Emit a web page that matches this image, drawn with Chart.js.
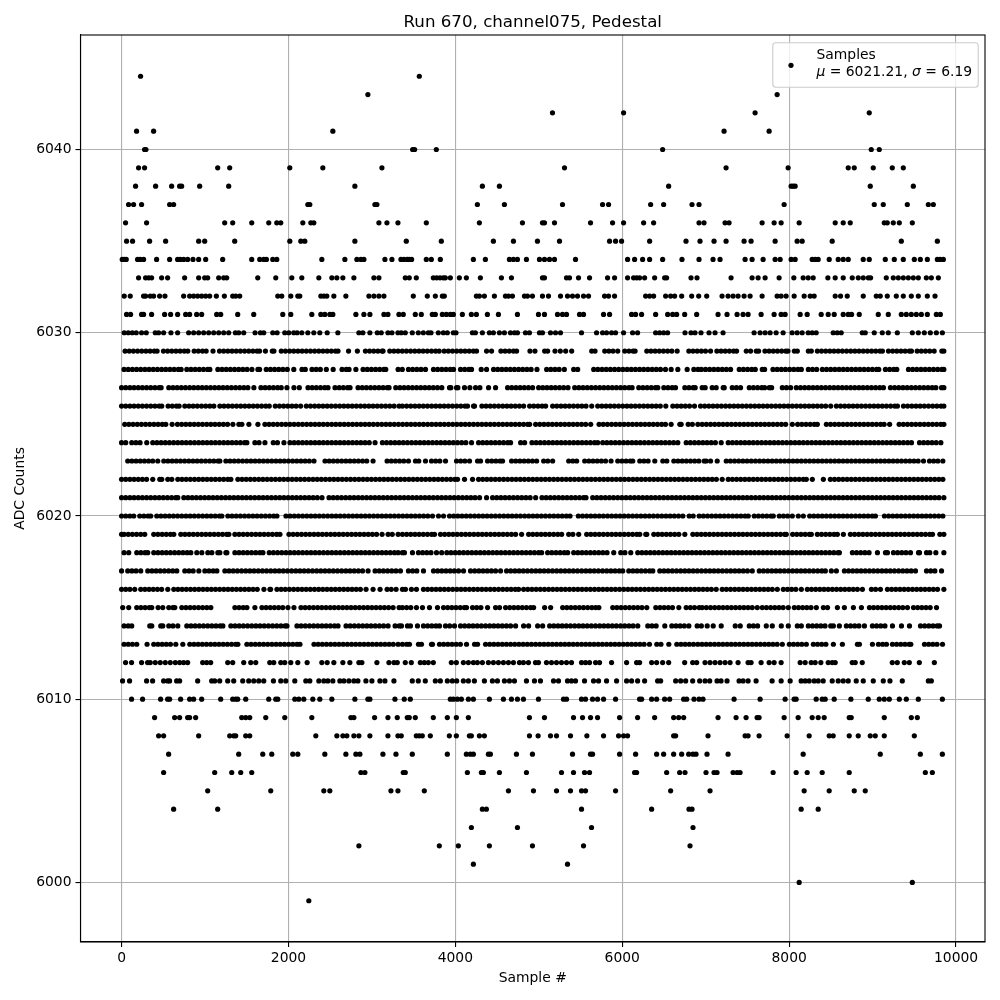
<!DOCTYPE html>
<html><head><meta charset="utf-8">
<script src="https://cdn.jsdelivr.net/npm/chart.js@4"></script>
<style>html,body{margin:0;padding:0;background:#fff}#w{width:1000px;height:1000px;position:relative}</style>
</head><body><div id="w"><canvas id="c" width="1000" height="1000"></canvas></div>
<script>
// Sample numbers per ADC level. Sparse levels are read dot by dot.
// In dense levels (6013-6029) dots overlap, so positions are estimates along each visible run.
const adc6044=[228,3568];
const adc6043=[2952,7856];
const adc6042=[5164,6016,7592,8960];
const adc6041=[180,384,2532,7220,7760];
const adc6040=[276,292,3488,3512,3772,6484,8984,9080];
const adc6039=[204,276,1152,1296,2016,2412,3120,5308,7244,7988,8708,8780,9008,9236,9368];
const adc6038=[168,408,600,696,720,936,1284,2796,4324,4528,6556,8024,8048,8072,8972,9488];
const adc6037=[84,144,240,576,624,2232,2256,3036,3060,4264,4588,5284,5764,5836,6340,6496,6836,6920,7940,9020,9128,9416,9668,9728];
const adc6036=[48,300,1236,1332,1560,1764,1860,1908,2172,2268,2304,3084,3180,3312,3652,4288,4804,5044,5068,5188,5620,5884,6016,6256,6376,6920,6980,7232,7280,7676,7820,7904,8120,8552,8648,8732,9140,9176,9248,9320,9476];
const adc6035=[60,132,336,528,924,996,1356,2016,2148,2196,2796,3412,3832,4456,4696,4984,5248,5848,5920,5992,6328,6764,6932,7100,7244,7460,7544,7832,8096,8156,8516,9344,9776];
const adc6034=[8,32,56,192,224,264,420,576,672,704,744,792,856,924,1008,1212,1560,1656,1704,1736,1812,1860,2400,2676,2820,2868,2904,3156,3240,3348,3384,3424,3448,3476,3652,3712,3820,4216,4360,4648,4696,4744,4852,5008,5068,5128,5188,5440,6064,6148,6244,6328,6484,6716,6920,7088,7172,7472,7556,7688,7832,7892,8024,8072,8276,8312,8348,8480,8588,8648,8708,8888,8960,9152,9260,9368,9500,9572,9656,9776,9808,9848];
const adc6033=[204,288,324,360,480,552,756,924,996,1032,1164,1224,1260,1632,1848,2040,2160,2364,2520,2580,2652,2784,3024,3084,3400,3448,3532,3736,3776,3816,3856,3880,3940,4048,4132,4300,4552,4672,5044,5068,5332,5368,5476,5608,5824,5908,6064,6136,6172,6208,6268,6388,6508,6532,6824,6896,7304,7556,7628,7712,7880,8056,8168,8228,8288,8464,8552,8648,8756,8828,8888,8948,8976,9164,9248,9308,9368,9428,9488,9548,9644,9704,9788];
const adc6032=[32,104,264,288,344,384,456,520,744,816,864,912,960,1008,1056,1136,1232,1332,1368,1416,1872,1920,2028,2112,2136,2388,2424,2460,2544,2688,2964,3024,3084,3144,3496,3664,3760,3844,3868,4252,4288,4348,4468,4600,4636,4684,4828,4864,4924,5044,5116,5260,5344,5404,5464,5536,5596,5788,5836,5908,6280,6328,6376,6520,6580,6628,6712,6832,6916,7012,7196,7268,7328,7388,7460,7532,7676,7856,7904,7964,8060,8180,8252,8300,8552,8616,8696,8888,9044,9092,9176,9284,9368,9464,9548,9656,9748];
const adc6031=[60,108,240,264,360,516,588,672,768,816,900,960,1140,1188,1392,1584,1932,2028,2280,2388,2436,2496,2532,2808,2904,2976,3144,3192,3324,3376,3520,3592,3724,3760,3844,3892,3940,3976,4084,4192,4252,4384,4516,4744,4996,5068,5224,5284,5332,5488,5536,5776,5848,6112,6160,6232,6400,6544,6604,6652,6748,6892,7148,7256,7376,7448,7508,7664,7820,7904,7952,8132,8216,8384,8468,8540,8648,8708,8748,8840,9068,9188,9344,9404,9464,9524,9584,9656,9764,9812];
const adc6030=[32,80,128,176,240,296,404,444,504,592,672,804,864,924,984,1044,1104,1164,1224,1284,1364,1404,1464,1600,1664,1704,1812,1864,1956,2004,2064,2104,2160,2232,2304,2376,2464,2592,2844,2892,2976,3064,3112,3192,3240,3312,3352,3400,3484,3556,3616,3676,3708,3796,3856,3904,3976,4008,4204,4240,4324,4408,4456,4528,4588,4660,4708,4744,4840,4888,5008,5044,5140,5200,5260,5512,5692,5764,5812,5872,5920,6016,6124,6184,6400,6448,6496,6544,6752,6824,6872,6944,7040,7112,7208,7580,7652,7712,7772,7844,7928,8036,8096,8156,8228,8276,8324,8528,8576,8624,8876,8912,9020,9116,9188,9296,9476,9548,9620,9692,9764,9836];
const adc6029=[42,92,142,192,242,292,342,392,426,502,552,602,652,702,752,794,870,920,970,1014,1096,1174,1224,1274,1324,1374,1424,1474,1524,1574,1624,1654,1724,1806,1826,1914,1964,2014,2064,2114,2164,2214,2264,2314,2364,2414,2464,2514,2564,2594,2720,2826,2922,2972,3022,3072,3122,3134,3214,3264,3314,3364,3414,3464,3514,3564,3614,3664,3714,3764,3806,3866,3916,3966,4016,4066,4116,4166,4216,4254,4374,4434,4546,4596,4646,4696,4734,4894,4954,5070,5106,5194,5258,5322,5394,5634,5674,5790,5840,5890,5946,6030,6080,6130,6154,6294,6344,6394,6444,6494,6544,6594,6658,6798,6848,6898,6948,6998,7058,7134,7184,7234,7284,7334,7370,7486,7538,7606,7634,7710,7760,7810,7860,7910,7960,7986,8062,8098,8230,8266,8338,8388,8438,8488,8538,8588,8638,8688,8738,8788,8838,8888,8938,8988,9038,9088,9118,9190,9240,9290,9340,9390,9440,9466,9534,9584,9634,9684,9738,9830,9854];
const adc6028=[30,80,130,180,230,280,330,380,430,480,530,580,630,680,714,782,832,882,932,982,1032,1058,1154,1204,1254,1304,1354,1404,1454,1504,1562,1634,1654,1734,1784,1834,1884,1934,1986,2064,2162,2202,2282,2332,2382,2454,2536,2642,2692,2726,2808,2894,2944,2994,3044,3094,3144,3166,3314,3364,3438,3488,3538,3588,3642,3738,3788,3838,3888,3938,3978,4062,4112,4162,4194,4310,4374,4458,4508,4558,4608,4658,4708,4758,4808,4858,4908,4978,5094,5144,5194,5244,5306,5418,5466,5658,5708,5758,5808,5858,5908,5958,6008,6058,6108,6158,6208,6258,6308,6358,6408,6458,6518,6586,6666,6778,6858,6908,6948,6998,7048,7098,7148,7198,7248,7298,7402,7452,7502,7552,7594,7678,7706,7806,7856,7906,7956,8006,8056,8106,8146,8230,8280,8330,8398,8448,8498,8548,8598,8648,8698,8748,8798,8848,8898,8948,8998,9048,9074,9154,9204,9254,9290,9430,9480,9530,9580,9630,9680,9730,9780,9830,9854];
const adc6027=[0,50,100,150,200,250,300,350,400,450,474,566,616,666,716,766,816,866,916,966,1016,1066,1116,1166,1216,1266,1316,1366,1416,1466,1514,1586,1670,1720,1770,1820,1870,1914,1982,2066,2130,2234,2284,2334,2384,2434,2474,2558,2608,2658,2708,2738,2834,2884,2934,2984,3034,3084,3134,3184,3206,3286,3336,3386,3436,3486,3536,3586,3636,3686,3736,3786,3838,3930,3946,4014,4030,4110,4174,4242,4294,4398,4482,4626,4676,4726,4776,4826,4876,4926,4998,5048,5098,5148,5198,5248,5298,5350,5430,5480,5530,5580,5630,5680,5730,5780,5830,5880,5930,5980,6030,6080,6118,6198,6248,6298,6348,6398,6426,6498,6548,6598,6638,6750,6800,6850,6874,6958,6994,7078,7126,7210,7222,7318,7368,7418,7522,7572,7622,7672,7706,7762,7790,7918,7968,8018,8086,8136,8186,8236,8286,8336,8386,8436,8486,8536,8586,8636,8686,8736,8786,8836,8886,8936,8986,9036,9086,9130,9214,9264,9314,9364,9414,9464,9514,9564,9614,9664,9714,9758,9826,9854];
const adc6026=[0,50,100,150,200,250,300,350,400,450,482,558,608,658,690,758,808,858,908,958,1008,1058,1106,1178,1228,1278,1328,1378,1428,1478,1528,1578,1628,1678,1728,1770,1842,1892,1942,1992,2042,2092,2146,2214,2264,2314,2364,2414,2464,2514,2564,2614,2664,2714,2764,2814,2864,2914,2964,3014,3064,3114,3164,3214,3266,3326,3366,3416,3466,3516,3566,3616,3666,3716,3766,3816,3866,3916,3966,4016,4066,4116,4146,4218,4230,4318,4368,4418,4468,4518,4568,4618,4668,4718,4768,4818,4890,4940,4990,5040,5082,5166,5216,5266,5316,5366,5416,5466,5516,5566,5634,5706,5756,5806,5856,5906,5956,6006,6056,6106,6156,6206,6256,6306,6356,6406,6456,6522,6606,6656,6706,6756,6806,6866,6938,6988,7038,7088,7138,7188,7238,7288,7338,7388,7438,7488,7538,7588,7638,7688,7738,7788,7838,7888,7938,7988,8038,8088,8138,8188,8238,8288,8338,8388,8438,8498,8566,8616,8666,8716,8766,8816,8866,8916,8966,9016,9066,9116,9166,9216,9266,9298,9370,9420,9470,9520,9570,9620,9670,9720,9770,9820,9854];
const adc6025=[38,88,138,188,238,288,338,388,438,488,530,606,670,720,770,820,870,920,970,1020,1070,1120,1170,1220,1270,1334,1406,1442,1526,1634,1718,1768,1818,1868,1918,1968,2018,2068,2118,2168,2218,2268,2318,2368,2418,2468,2518,2568,2618,2668,2718,2768,2818,2868,2918,2968,3018,3068,3118,3168,3218,3268,3318,3368,3418,3468,3518,3568,3618,3668,3718,3768,3818,3868,3918,3968,4018,4068,4118,4168,4218,4268,4318,4368,4418,4468,4518,4568,4618,4668,4718,4768,4818,4868,4890,4962,5012,5062,5112,5162,5212,5262,5312,5362,5412,5462,5512,5562,5622,5722,5772,5822,5872,5922,5972,6022,6072,6122,6172,6222,6272,6322,6372,6422,6472,6518,6586,6690,6706,6790,6840,6906,6958,7008,7058,7108,7158,7208,7258,7308,7358,7408,7458,7508,7558,7608,7658,7708,7758,7808,7858,7908,7958,8038,8102,8152,8202,8252,8302,8338,8446,8496,8546,8596,8646,8696,8746,8796,8846,8896,8946,8996,9046,9096,9138,9204,9318,9368,9418,9468,9518,9568,9618,9668,9718,9768,9818,9854];
const adc6024=[0,50,122,172,222,302,374,424,474,524,574,624,674,724,774,824,874,924,974,1024,1074,1124,1174,1224,1274,1324,1374,1424,1474,1502,1598,1648,1718,1818,1868,1946,2018,2068,2118,2168,2218,2268,2318,2368,2418,2468,2518,2568,2618,2668,2718,2768,2818,2868,2918,2968,3038,3126,3176,3226,3276,3326,3376,3426,3476,3526,3576,3626,3676,3726,3776,3826,3876,3926,3976,4026,4076,4126,4194,4278,4328,4378,4428,4478,4528,4578,4628,4662,4782,4830,4918,4968,5018,5068,5118,5168,5218,5268,5318,5368,5418,5468,5518,5568,5618,5668,5706,5766,5816,5866,5916,5966,6016,6066,6116,6166,6216,6266,6316,6366,6416,6466,6516,6566,6616,6666,6766,6816,6866,6916,6966,7016,7066,7116,7186,7270,7320,7370,7420,7470,7520,7570,7620,7670,7720,7770,7820,7870,7920,7970,8020,8070,8120,8170,8220,8270,8320,8370,8420,8470,8520,8570,8620,8670,8720,8770,8820,8870,8920,8970,9020,9070,9120,9170,9220,9270,9320,9370,9420,9466,9562,9612,9662,9712,9762,9818];
const adc6023=[74,124,174,224,274,324,374,434,506,556,606,656,706,756,806,856,906,956,1006,1056,1106,1156,1178,1250,1300,1350,1400,1450,1500,1550,1600,1650,1700,1750,1800,1850,1900,1950,2000,2050,2100,2150,2200,2250,2306,2438,2488,2538,2588,2638,2688,2738,2788,2838,2888,2938,3014,3182,3232,3282,3332,3382,3438,3522,3562,3642,3714,3764,3814,3882,4014,4064,4114,4170,4266,4302,4386,4436,4486,4536,4566,4674,4724,4774,4824,4874,4924,4974,5058,5108,5166,5358,5408,5454,5550,5600,5650,5700,5750,5800,5866,5946,5996,6046,6096,6126,6210,6260,6310,6390,6486,6534,6618,6668,6718,6768,6818,6868,6918,6982,7006,7058,7138,7246,7296,7346,7396,7446,7496,7546,7596,7646,7696,7746,7796,7846,7896,7946,7996,8046,8096,8146,8196,8246,8296,8346,8396,8446,8496,8546,8596,8646,8696,8746,8796,8846,8896,8946,8996,9046,9096,9146,9196,9246,9296,9346,9396,9446,9496,9546,9610,9682,9732,9782,9842];
const adc6022=[0,50,100,150,200,250,300,374,458,482,554,602,674,724,774,824,874,924,974,1024,1074,1124,1174,1224,1274,1310,1394,1444,1494,1544,1594,1644,1694,1744,1794,1844,1894,1944,1994,2044,2094,2144,2194,2244,2294,2344,2394,2444,2494,2544,2594,2644,2694,2744,2794,2844,2894,2944,2994,3044,3094,3144,3194,3244,3294,3344,3394,3444,3494,3544,3594,3644,3694,3744,3794,3844,3894,3944,3994,4026,4110,4206,4278,4328,4378,4428,4478,4528,4578,4628,4678,4728,4778,4828,4878,4928,4978,5028,5078,5128,5178,5228,5278,5328,5378,5428,5478,5528,5578,5628,5678,5728,5778,5828,5878,5928,5978,6028,6078,6128,6178,6228,6278,6328,6378,6428,6478,6528,6578,6628,6678,6728,6778,6828,6878,6928,6978,7028,7078,7128,7198,7270,7320,7370,7420,7470,7520,7570,7620,7670,7720,7770,7820,7870,7920,7970,8020,8070,8120,8170,8206,8278,8410,8494,8544,8594,8644,8694,8744,8794,8844,8894,8944,8994,9044,9094,9144,9194,9244,9294,9344,9394,9444,9494,9544,9594,9644,9694,9744,9794,9842];
const adc6021=[0,50,100,150,200,250,300,350,400,450,500,550,600,650,674,746,796,846,896,946,996,1046,1096,1146,1196,1246,1296,1346,1396,1446,1496,1546,1596,1646,1696,1746,1796,1846,1896,1946,1996,2046,2096,2146,2196,2246,2296,2346,2402,2486,2536,2586,2636,2686,2736,2786,2836,2886,2936,2986,3036,3086,3136,3186,3236,3286,3336,3386,3436,3486,3536,3586,3636,3686,3736,3786,3836,3886,3936,3986,4036,4086,4136,4186,4236,4290,4374,4446,4496,4546,4596,4646,4696,4746,4796,4846,4896,4962,5038,5088,5138,5188,5238,5288,5338,5388,5438,5488,5538,5566,5646,5696,5746,5796,5846,5896,5946,5996,6046,6096,6146,6196,6246,6296,6346,6396,6446,6496,6546,6596,6646,6696,6746,6796,6846,6896,6946,6996,7046,7096,7146,7196,7246,7296,7346,7396,7446,7496,7546,7596,7646,7696,7746,7796,7846,7896,7946,7996,8046,8096,8146,8196,8246,8296,8346,8396,8446,8496,8546,8596,8646,8696,8746,8796,8846,8896,8946,8996,9046,9096,9146,9196,9246,9296,9346,9396,9446,9496,9546,9596,9646,9696,9746,9796,9854];
const adc6020=[0,50,100,146,218,268,318,350,422,472,522,572,622,672,722,772,822,872,922,972,1022,1072,1122,1172,1202,1274,1324,1374,1424,1474,1524,1574,1624,1674,1724,1774,1824,1862,1970,2020,2070,2120,2170,2220,2270,2320,2370,2420,2470,2520,2570,2620,2670,2720,2770,2820,2870,2920,2970,3020,3070,3120,3170,3220,3270,3320,3370,3420,3470,3520,3570,3620,3670,3726,3798,3858,3930,3980,4030,4080,4130,4180,4230,4280,4330,4380,4430,4480,4530,4580,4630,4680,4730,4780,4830,4880,4930,4980,5030,5080,5130,5180,5230,5280,5330,5374,5474,5524,5574,5624,5674,5724,5774,5824,5874,5924,5974,6024,6074,6124,6174,6224,6274,6324,6374,6424,6474,6524,6574,6624,6674,6726,6802,6850,6922,6972,7022,7072,7122,7172,7222,7272,7322,7372,7422,7472,7510,7582,7632,7682,7732,7782,7810,7882,7932,7982,8038,8110,8170,8246,8296,8346,8396,8446,8496,8546,8596,8646,8696,8746,8796,8846,8896,8946,8996,9034,9142,9192,9242,9292,9342,9392,9442,9492,9542,9592,9642,9692,9742,9792,9842];
const adc6019=[0,30,80,130,180,230,278,386,436,486,536,586,626,710,760,810,860,910,960,1010,1060,1110,1160,1210,1260,1286,1358,1408,1458,1508,1558,1608,1658,1708,1758,1808,1858,1898,2006,2056,2106,2156,2206,2256,2306,2356,2406,2456,2506,2556,2606,2656,2706,2756,2806,2856,2906,2956,3006,3056,3122,3194,3244,3314,3366,3416,3466,3516,3566,3616,3666,3716,3750,3822,3872,3922,3972,4022,4072,4122,4172,4222,4272,4322,4372,4422,4472,4522,4572,4622,4672,4722,4794,4878,4928,4978,5028,5078,5128,5178,5228,5274,5358,5408,5478,5574,5624,5674,5724,5774,5824,5874,5924,5974,6024,6074,6124,6174,6210,6282,6294,6378,6428,6478,6528,6578,6628,6678,6750,6846,6896,6946,6996,7046,7096,7146,7196,7246,7296,7346,7396,7446,7496,7546,7596,7646,7696,7746,7796,7846,7896,7946,7966,8042,8092,8142,8192,8242,8266,8338,8388,8438,8488,8538,8578,8650,8734,8784,8834,8884,8934,8984,9034,9084,9134,9184,9234,9284,9334,9384,9434,9484,9534,9584,9634,9684,9718,9806,9854];
const adc6018=[30,86,182,232,282,314,386,436,486,536,586,636,686,736,786,830,902,962,1034,1082,1154,1178,1250,1262,1358,1408,1458,1508,1558,1608,1658,1694,1770,1820,1870,1920,1970,2020,2070,2120,2170,2220,2270,2320,2370,2420,2470,2520,2570,2620,2670,2720,2770,2820,2870,2920,2970,3020,3070,3120,3170,3220,3270,3314,3366,3390,3486,3558,3608,3658,3708,3774,3836,3898,3948,3998,4048,4098,4148,4198,4248,4298,4348,4398,4448,4498,4548,4598,4648,4698,4748,4798,4848,4898,4948,4998,5034,5106,5156,5206,5256,5306,5346,5418,5468,5518,5568,5618,5668,5718,5768,5818,5898,5982,6032,6102,6186,6236,6286,6336,6386,6436,6486,6536,6586,6636,6686,6736,6786,6836,6886,6936,6986,7036,7086,7136,7186,7236,7286,7336,7386,7436,7486,7536,7586,7636,7686,7736,7786,7836,7886,7936,7986,8036,8086,8136,8186,8236,8286,8336,8386,8436,8486,8536,8586,8602,8758,8808,8858,8908,8958,9058,9154,9178,9250,9300,9350,9400,9454,9550,9562,9646,9686,9758,9854];
const adc6017=[0,74,124,174,230,314,364,414,464,514,564,614,662,758,808,858,926,998,1048,1098,1142,1238,1288,1338,1388,1438,1488,1538,1588,1638,1688,1738,1788,1838,1888,1938,1988,2038,2088,2138,2188,2238,2288,2338,2388,2438,2488,2538,2588,2638,2688,2738,2788,2838,2888,2954,3038,3088,3138,3188,3238,3288,3342,3438,3488,3538,3618,3738,3788,3838,3888,3938,3988,4038,4098,4182,4232,4282,4332,4382,4432,4482,4542,4614,4664,4714,4764,4814,4864,4914,4964,5014,5064,5114,5164,5214,5264,5314,5364,5414,5464,5514,5564,5614,5664,5714,5764,5814,5864,5914,5964,6006,6078,6128,6178,6228,6278,6328,6366,6450,6500,6550,6600,6650,6700,6750,6800,6850,6900,6950,7000,7050,7100,7150,7200,7250,7300,7350,7400,7450,7500,7558,7642,7692,7742,7792,7842,7892,7942,7992,8042,8092,8142,8192,8242,8292,8342,8392,8434,8506,8566,8662,8712,8762,8812,8862,8912,8962,9012,9062,9112,9162,9212,9262,9312,9362,9412,9462,9514,9646,9696,9746,9826];
const adc6016=[0,50,100,158,230,280,330,380,430,480,554,626,676,726,776,826,876,926,976,1026,1076,1126,1176,1226,1276,1326,1376,1426,1476,1526,1576,1626,1706,1778,1786,1862,1912,1962,2012,2062,2112,2162,2212,2262,2312,2362,2412,2462,2512,2562,2612,2662,2712,2762,2812,2862,2930,3014,3098,3182,3232,3290,3366,3402,3474,3534,3618,3668,3718,3768,3818,3868,3918,3968,4018,4068,4118,4168,4218,4268,4318,4368,4418,4468,4518,4568,4618,4668,4718,4758,4818,4868,4918,4968,5018,5068,5118,5168,5218,5268,5318,5368,5418,5468,5518,5568,5618,5668,5718,5768,5818,5868,5918,5968,6018,6068,6118,6168,6218,6268,6318,6368,6418,6468,6518,6568,6618,6668,6718,6768,6818,6868,6918,6968,7018,7068,7126,7198,7248,7298,7348,7398,7448,7498,7548,7598,7648,7698,7748,7798,7858,7930,7980,8030,8080,8146,8218,8268,8318,8368,8418,8468,8518,8568,8618,8668,8718,8768,8818,8878,8986,9036,9094,9178,9228,9278,9328,9378,9428,9478,9528,9578,9628,9678,9728,9778,9854];
const adc6015=[14,86,182,232,282,332,362,438,494,566,616,638,722,772,822,872,922,972,1022,1070,1358,1408,1458,1502,1598,1682,1732,1782,1832,1882,1932,1994,2066,2150,2200,2250,2300,2350,2400,2450,2500,2550,2600,2650,2700,2750,2800,2850,2900,2950,3000,3050,3100,3150,3200,3254,3326,3366,3416,3466,3534,3606,3690,3786,3858,3908,3958,4008,4058,4108,4134,4206,4256,4306,4386,4482,4530,4602,4652,4702,4752,4802,4852,4902,4938,5070,5142,5286,5336,5386,5436,5486,5536,5586,5636,5682,5720,5886,5936,5986,6036,6086,6136,6186,6236,6294,6402,6452,6502,6552,6602,6678,6766,6816,6866,6922,6958,7008,7058,7108,7158,7208,7258,7308,7358,7408,7458,7508,7558,7618,7678,7728,7778,7828,7878,7928,7990,8062,8112,8162,8212,8262,8326,8410,8460,8578,8662,8770,8866,8962,9012,9062,9112,9162,9212,9262,9312,9362,9418,9490,9540,9590,9640,9690,9766];
const adc6014=[30,80,122,338,362,470,494,566,616,674,782,832,882,932,982,1032,1082,1132,1182,1214,1310,1360,1410,1460,1510,1560,1610,1660,1710,1760,1810,1860,1910,1960,1982,2102,2152,2202,2252,2302,2352,2402,2452,2502,2552,2594,2690,2740,2790,2840,2890,2940,2990,3040,3090,3140,3194,3278,3328,3354,3426,3462,3546,3618,3668,3718,3768,3810,3882,3932,3990,4062,4112,4162,4212,4262,4312,4362,4412,4462,4512,4562,4612,4662,4722,4818,4878,4986,5046,5130,5180,5230,5280,5330,5380,5430,5480,5530,5580,5630,5680,5730,5780,5830,5880,5930,5980,6030,6080,6130,6186,6306,6356,6406,6510,6594,6644,6694,6744,6798,6898,6948,7018,7090,7186,7354,7414,7522,7572,7622,7726,7798,7906,7990,8098,8146,8230,8280,8330,8380,8430,8498,8530,8602,8686,8736,8786,8836,8902,8998,9048,9098,9148,9238,9346,9442,9574,9624,9674,9724,9774,9802];
const adc6013=[30,80,130,182,306,386,436,486,536,586,650,734,818,868,918,968,1018,1068,1118,1168,1218,1268,1318,1368,1394,1502,1552,1602,1652,1702,1752,1802,1852,1902,1952,2002,2052,2102,2138,2306,2356,2406,2456,2506,2556,2606,2656,2706,2756,2806,2856,2906,2956,3006,3056,3106,3156,3206,3256,3314,3366,3416,3450,3558,3594,3714,3726,3810,3860,3910,3960,4010,4060,4134,4230,4266,4362,4412,4462,4512,4562,4612,4662,4712,4762,4812,4862,4912,4962,5012,5062,5112,5162,5212,5262,5312,5362,5412,5462,5512,5562,5612,5662,5712,5762,5812,5862,5912,5962,6012,6062,6112,6162,6212,6262,6326,6414,6464,6558,6654,6704,6754,6804,6854,6906,6956,7006,7056,7106,7156,7206,7256,7306,7356,7406,7456,7506,7556,7606,7656,7706,7756,7806,7856,7918,8002,8052,8102,8152,8206,8290,8340,8390,8440,8530,8638,8818,8842,8998,9070,9120,9166,9238,9288,9338,9388,9438,9458,9622,9672,9722,9772,9838];
const adc6012=[48,120,240,312,344,404,464,524,584,644,696,744,792,972,1020,1068,1272,1332,1464,1548,1608,1776,1824,1908,1956,2028,2112,2224,2400,2464,2544,2652,2736,2844,2880,3060,3204,3264,3304,3400,3472,3580,3628,3676,3736,3952,4012,4096,4156,4216,4264,4324,4396,4456,4516,4576,4636,4696,4768,4816,4876,4960,4996,5092,5152,5212,5272,5332,5392,5512,5560,5608,5680,5728,5872,6052,6172,6208,6352,6412,6484,6556,6748,6844,6892,6992,7052,7112,7172,7232,7292,7388,7508,7544,7664,7760,7820,7904,8132,8192,8264,8312,8380,8468,8516,8552,8756,8792,8876,9236,9296,9380,9440,9560,9740];
const adc6011=[12,96,300,372,504,552,576,660,696,912,1080,1116,1176,1272,1344,1452,1524,1584,1644,1704,1820,1908,1968,2076,2208,2256,2364,2424,2472,2532,2616,2664,2724,2784,2832,2928,3000,3096,3156,3264,3484,3556,3640,3760,3820,3904,3964,4016,4096,4156,4228,4348,4444,4504,4588,4648,4708,4852,4948,5020,5176,5236,5344,5392,5440,5548,5656,5716,5812,5932,6052,6112,6184,6268,6424,6460,6640,6700,6760,6844,6928,6992,7048,7136,7184,7256,7400,7448,7508,7604,7796,7904,8012,8144,8192,8240,8300,8348,8408,8516,8588,8648,8708,8804,8888,9008,9128,9208,9356,9668,9704];
const adc6010=[120,252,468,552,576,708,816,864,960,1188,1332,1368,1392,1488,1764,1848,1872,2076,2124,2184,2292,2376,2520,2796,2952,2976,3276,3388,3460,3940,3976,4024,4072,4156,4216,4408,4576,4672,4744,4816,4996,5296,5332,5512,5560,5644,5704,5776,5920,6208,6232,6352,6412,6508,6568,6736,6772,6860,6920,6968,7340,7652,7952,8060,8084,8324,8396,8432,8540,8740,8948,9080,9140,9200,9320,9404,9548,9836];
const adc6009=[396,636,696,792,816,888,1440,1488,1536,1728,1956,2280,2748,2784,3032,3192,3304,3424,3448,3520,3736,3904,4012,4156,4888,5068,5416,5524,5620,5704,5968,6184,6388,6616,6676,6736,7148,7364,7484,7616,7640,7940,8108,8276,8348,8420,8720,8744,9140,9464,9536];
const adc6008=[444,504,924,1296,1344,1368,1488,1536,2328,2580,2652,2700,2784,2844,2976,3192,3312,3352,3532,3568,3604,3700,3928,4012,4168,4192,4288,4348,4888,4992,5140,5212,5380,5576,5776,5956,6016,6064,6616,6640,7028,7472,7508,7640,7976,8240,8480,8528,8720,8828,8972,9032,9140,9500];
const adc6007=[564,1404,1692,1800,2052,2112,2436,2688,2808,2856,3132,3288,3484,3904,4132,4180,4216,4396,4420,4732,4924,5404,5620,5644,5968,6160,6412,6496,6616,6712,6796,6848,6884,7016,7268,8168,9092,9572,9836];
const adc6006=[504,1116,1320,1428,1560,2868,2916,3376,3400,4144,4312,4336,4528,4852,5272,5416,5548,5608,6148,6172,6532,6688,6752,7004,7100,7136,7328,7376,7412,7808,8084,8216,8396,8720,9632,9716];
const adc6005=[1032,1788,2424,2496,3228,3312,3628,4636,4936,5212,5380,5512,5560,5920,6580,7052,8180,8480,8780,8912];
const adc6004=[624,1152,4324,4372,5512,6352,6800,6836,8144,8348];
const adc6003=[4192,4744,5632,6848];
const adc6002=[2844,3808,4036,4408,4924,5536,6812];
const adc6001=[4216,5344];
const adc6000=[8120,9476];
const adc5999=[2244];

const levelValues=[6044,6043,6042,6041,6040,6039,6038,6037,6036,6035,6034,6033,6032,6031,6030,6029,6028,6027,6026,6025,6024,6023,6022,6021,6020,6019,6018,6017,6016,6015,6014,6013,6012,6011,6010,6009,6008,6007,6006,6005,6004,6003,6002,6001,6000,5999];
const levelSamples=[adc6044,adc6043,adc6042,adc6041,adc6040,adc6039,adc6038,adc6037,adc6036,adc6035,adc6034,adc6033,adc6032,adc6031,adc6030,adc6029,adc6028,adc6027,adc6026,adc6025,adc6024,adc6023,adc6022,adc6021,adc6020,adc6019,adc6018,adc6017,adc6016,adc6015,adc6014,adc6013,adc6012,adc6011,adc6010,adc6009,adc6008,adc6007,adc6006,adc6005,adc6004,adc6003,adc6002,adc6001,adc6000,adc5999];
const xTickValues=[0,2000,4000,6000,8000,10000];
const yTickValues=[6000,6010,6020,6030,6040];
const chartTitle="Run 670, channel075, Pedestal";
const xTitle="Sample #";
const yTitle="ADC Counts";
const legendName="Samples";
const muValue="6021.21";
const sigmaValue="6.19";

const points=[];
levelValues.forEach((v,i)=>levelSamples[i].forEach(s=>points.push({x:s,y:v})));

const F='"DejaVu Sans"';
const framePlugin={id:'frame',afterDraw(ch){
  const a=ch.chartArea,c=ch.ctx;
  c.save();
  c.strokeStyle='#000';c.lineWidth=1.1;
  c.strokeRect(a.left,a.top,a.right-a.left,a.bottom-a.top);
  c.font='16.67px '+F;c.textAlign='center';c.textBaseline='alphabetic';c.fillStyle='#000';
  c.fillText(chartTitle,(a.left+a.right)/2,27);
  c.beginPath();c.roundRect(772.8,42.7,205.4,44.6,3);
  c.fillStyle='rgba(255,255,255,0.8)';c.fill();
  c.strokeStyle='#cccccc';c.lineWidth=1.1;c.stroke();
  c.fillStyle='#000';c.beginPath();c.arc(791,65.3,2.6,0,Math.PI*2);c.fill();
  c.textBaseline='alphabetic';c.textAlign='left';
  c.font='13.89px '+F;c.fillText(legendName,816.5,59);
  let x=816.5;const y=76;
  [['italic','\u03bc'],['normal',' = '+muValue+', '],['italic','\u03c3'],['normal',' = '+sigmaValue]].forEach(p=>{
    c.font=p[0]+' 13.89px '+F;c.fillText(p[1],x,y);x+=c.measureText(p[1]).width;});
  c.restore();
}};
const plain=v=>String(v);

new Chart(document.getElementById('c'),{
  type:'scatter',
  data:{datasets:[{label:legendName,data:points,backgroundColor:'#000',borderWidth:0,pointRadius:2.6,pointHoverRadius:2.6}]},
  plugins:[framePlugin],
  options:{
    responsive:false,animation:false,
    layout:{padding:{left:0,right:15,top:35,bottom:0}},
    plugins:{legend:{display:false},tooltip:{enabled:false},title:{display:false}},
    scales:{
      x:{type:'linear',min:-492,max:10347,afterFit(s){s.height=58;},
        afterBuildTicks(s){s.ticks=xTickValues.map(v=>({value:v}));},
        grid:{color:'#b0b0b0',lineWidth:1.1,tickColor:'#000',tickLength:5,tickWidth:1.1},
        border:{display:true,color:'#000',width:1.1},
        ticks:{callback:plain,color:'#000',font:{family:F,size:13.89},padding:3,maxRotation:0,autoSkip:false},
        title:{display:true,text:xTitle,color:'#000',font:{family:F,size:13.89,lineHeight:1},padding:{top:0,bottom:15}}},
      y:{type:'linear',min:5996.75,max:6046.25,afterFit(s){s.width=80.5;},
        afterBuildTicks(s){s.ticks=yTickValues.map(v=>({value:v}));},
        grid:{color:'#b0b0b0',lineWidth:1.1,tickColor:'#000',tickLength:5,tickWidth:1.1},
        border:{display:true,color:'#000',width:1.1},
        ticks:{callback:plain,color:'#000',font:{family:F,size:13.89},padding:4,autoSkip:false},
        title:{display:true,text:yTitle,color:'#000',font:{family:F,size:13.89,lineHeight:1},padding:{top:13,bottom:0}}}
    }
  }
});
</script></body></html>
